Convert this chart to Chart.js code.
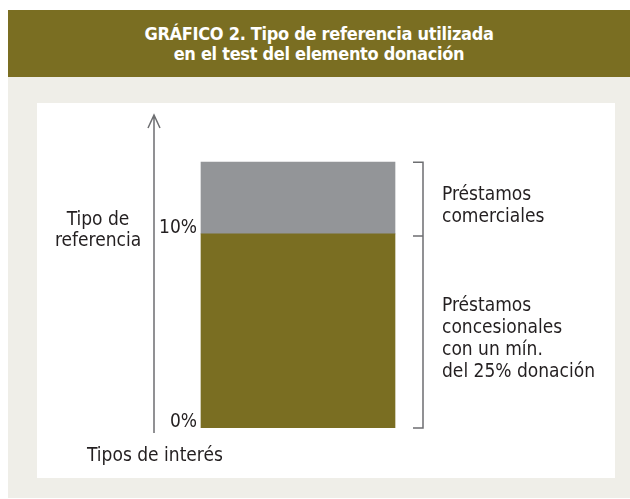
<!DOCTYPE html>
<html>
<head>
<meta charset="utf-8">
<script src="https://cdn.jsdelivr.net/npm/chart.js@4"></script>
<style>
    body { margin: 0; width: 630px; height: 499px; background: #fff; position: relative; overflow: hidden; }
    #fondo { position: absolute; left: 8px; top: 77px; width: 622px; height: 421px; background: #efeee8; }
    #titulo {
        position: absolute; left: 8px; top: 10px; width: 622px; height: 67px;
        background: #7a6e22; color: #fff;
        display: flex; align-items: center; justify-content: center; text-align: center;
        font-family: 'Liberation Sans Narrow', 'DejaVu Sans Condensed', sans-serif;
        font-weight: bold; font-size: 18px; line-height: 20px; letter-spacing: -0.3px;
    }
    #panel { position: absolute; left: 37px; top: 103px; width: 578px; height: 375px; background: #fff; }
</style>
</head>
<body>
<div id="fondo"></div>
<div id="titulo">GRÁFICO 2. Tipo de referencia utilizada<br>en el test del elemento donación</div>
<div id="panel"><canvas id="grafico" width="578" height="375"></canvas></div>

<script>
// Datos
const categorias = ['Tipos de interés'];
const concesionales = [10];
const comerciales = [3.7];
const ticksY = [0, 10];
const etiquetasY = ['0%', '10%'];
const textoComerciales = ['Préstamos', 'comerciales'];
const textoConcesionales = ['Préstamos', 'concesionales', 'con un mín.', 'del 25% donación'];
const tituloEjeY = ['Tipo de', 'referencia'];

const FUENTE = "'Liberation Sans Narrow', 'DejaVu Sans Condensed', sans-serif";
const GRIS_LINEA = '#6d6e71';

// Dibuja ejes, llaves y textos
const extras = {
    id: 'extras',
    afterDraw(chart) {
        const c = chart.ctx;
        const area = chart.chartArea;
        const y = chart.scales.y;
        const barra = chart.getDatasetMeta(0).data[0];
        const izq = barra.x - barra.width / 2;
        const der = barra.x + barra.width / 2;
        const y0 = y.getPixelForValue(0);
        const yMedio = y.getPixelForValue(concesionales[0]);
        const yTope = y.getPixelForValue(concesionales[0] + comerciales[0]);

        c.save();
        c.strokeStyle = GRIS_LINEA;
        c.lineWidth = 1.5;

        // eje con flecha
        c.beginPath();
        c.moveTo(area.left, y0 + 5);
        c.lineTo(area.left, area.top);
        c.moveTo(area.left - 6, area.top + 13);
        c.lineTo(area.left, area.top);
        c.lineTo(area.left + 6, area.top + 13);
        c.stroke();

        // llaves
        const xl = der + 28;
        c.beginPath();
        c.moveTo(xl - 10, yTope);
        c.lineTo(xl, yTope);
        c.lineTo(xl, y0);
        c.lineTo(xl - 10, y0);
        c.moveTo(xl - 10, yMedio + 2);
        c.lineTo(xl, yMedio + 2);
        c.stroke();

        c.fillStyle = '#231f20';
        c.font = '19px ' + FUENTE;

        // etiquetas del eje y
        c.textAlign = 'right';
        c.textBaseline = 'alphabetic';
        ticksY.forEach((v, i) => {
            c.fillText(etiquetasY[i], izq - 4, y.getPixelForValue(v) - 1);
        });

        // textos de las llaves
        c.textAlign = 'left';
        c.textBaseline = 'middle';
        const bloque = (lineas, a, b) => {
            const centro = (a + b) / 2 + 8;
            const inicio = centro - (lineas.length - 1) * 22 / 2;
            lineas.forEach((t, i) => c.fillText(t, xl + 19, inicio + i * 22));
        };
        bloque(textoComerciales, yTope, yMedio);
        bloque(textoConcesionales, yMedio, y0);

        // titulo eje y
        c.textAlign = 'center';
        tituloEjeY.forEach((t, i) => c.fillText(t, area.left - 56, yMedio - 14 + i * 21));

        // categoria
        c.textAlign = 'left';
        c.fillText(categorias[0], area.left - 67, y0 + 28);
        c.restore();
    }
};

const ctx = document.getElementById('grafico').getContext('2d');

new Chart(ctx, {
    type: 'bar',
    data: {
        labels: categorias,
        datasets: [
            { label: 'Préstamos concesionales', data: concesionales, backgroundColor: '#7a6e22' },
            { label: 'Préstamos comerciales', data: comerciales, backgroundColor: '#939598' }
        ]
    },
    options: {
        responsive: false,
        animation: false,
        layout: { padding: { top: 12, bottom: 50, left: 117, right: 173 } },
        datasets: { bar: { barThickness: 194, borderWidth: 0 } },
        scales: {
            x: { stacked: true, display: false },
            y: { stacked: true, display: false, min: 0, max: 16.13 }
        },
        plugins: {
            legend: { display: false },
            tooltip: { enabled: false }
        }
    },
    plugins: [extras]
});
</script>
</body>
</html>
